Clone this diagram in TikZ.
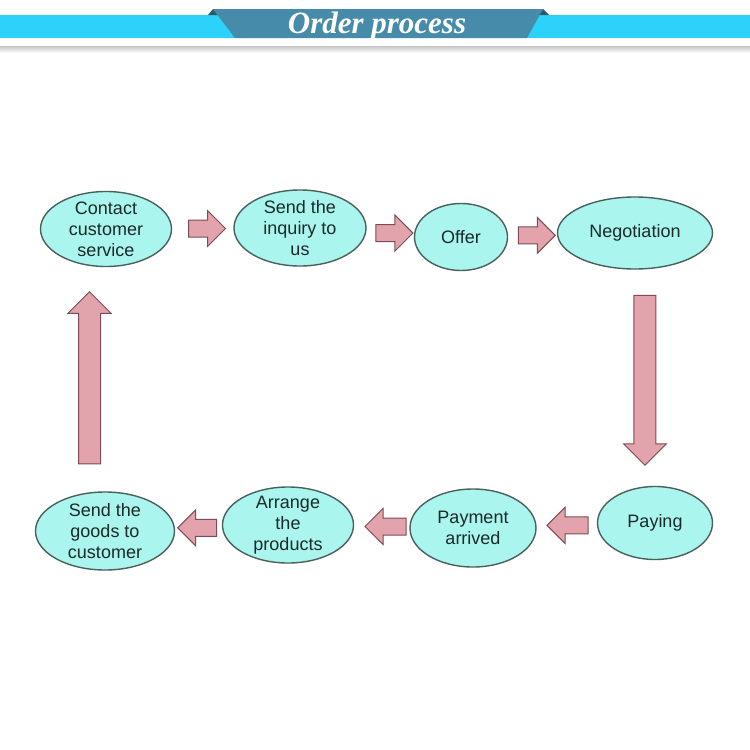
\documentclass[tikz,border=0pt]{standalone}
\usepackage{fontspec}
\setmainfont{Liberation Sans}
\newfontfamily\titlefont{Liberation Serif}
\usetikzlibrary{shapes.geometric, shapes.arrows}

\definecolor{bandcyan}{HTML}{2DD2FA}
\definecolor{ribbon}{HTML}{468BAA}
\definecolor{ribbondark}{HTML}{2B5A6A}
\definecolor{stagefill}{HTML}{AAF5EE}
\definecolor{stageline}{HTML}{4A605C}
\definecolor{stagetext}{HTML}{1A2A28}
\definecolor{flowfill}{HTML}{E2A3AC}
\definecolor{flowline}{HTML}{7B4C55}

\begin{document}
\begin{tikzpicture}[x=1pt, y=-1pt,
    stage/.style={ellipse, draw=stageline, fill=stagefill, line width=1.4pt, align=center, inner xsep=0pt, inner ysep=-6pt, text=stagetext, font=\fontsize{18}{21}\selectfont},
    flow/.style={single arrow, draw=flowline, fill=flowfill, line width=1pt, inner sep=8pt, single arrow tip angle=90, single arrow head extend=9.5pt, minimum height=37pt},
    longflow/.style={flow, inner sep=10.5pt, single arrow head extend=10.5pt, minimum height=170pt}]

    \useasboundingbox (0,0) rectangle (750,750);

    % header ribbon
    \fill[bandcyan] (0,15) rectangle (750,38);
    \shade[top color=gray!45, bottom color=white] (0,46) rectangle (750,53);
    \fill[ribbon] (213,9) -- (543,9) -- (527,38) -- (235,38) -- cycle;
    \fill[ribbondark] (208,15) -- (213,9) -- (217.5,15) -- cycle;
    \fill[ribbondark] (543,9) -- (549,15) -- (539.5,15) -- cycle;
    \node[anchor=base, text=white, font=\titlefont\bfseries\itshape\fontsize{31}{31}\selectfont] (title) at (377,33) {Order process};

    % stages
    \node[stage, minimum width=131pt, minimum height=75pt] (contact) at (106,229)
        {Contact\\customer\\service};
    \node[stage, minimum width=132pt, minimum height=76pt] (inquiry) at (300,228)
        {Send the\\inquiry to\\us};
    \node[stage, minimum width=93pt, minimum height=67pt] (offer) at (461,237)
        {Offer};
    \node[stage, minimum width=155pt, minimum height=72pt] (nego) at (635,233)
        {Negotiation};
    \node[stage, minimum width=115pt, minimum height=73pt] (paying) at (655,523)
        {Paying};
    \node[stage, minimum width=126pt, minimum height=78pt] (arrived) at (473,528)
        {Payment\\arrived};
    \node[stage, minimum width=131pt, minimum height=76pt] (arrange) at (288,525)
        {Arrange\\the\\products};
    \node[stage, minimum width=139pt, minimum height=78pt] (goods) at (105,531)
        {Send the\\goods to\\customer};

    % block arrows
    \path (contact) -- node[flow] (f1) {} (inquiry);
    \path (inquiry) -- node[flow] (f2) {} (offer);
    \path (offer) -- node[flow] (f3) {} (nego);
    \path (nego) -- node[longflow, shape border rotate=270, yshift=3pt] (f4) {} (paying);
    \path (paying) -- node[flow, shape border rotate=180, minimum height=41pt, xshift=5pt] (f5) {} (arrived);
    \path (arrived) -- node[flow, shape border rotate=180, minimum height=41pt, xshift=8pt] (f6) {} (arrange);
    \path (arrange) -- node[flow, shape border rotate=180, minimum height=39pt, xshift=3pt] (f7) {} (goods);
    \path (goods) -- node[longflow, shape border rotate=90, xshift=-16pt, yshift=-4pt, minimum height=172pt] (f8) {} (contact);

\end{tikzpicture}
\end{document}
